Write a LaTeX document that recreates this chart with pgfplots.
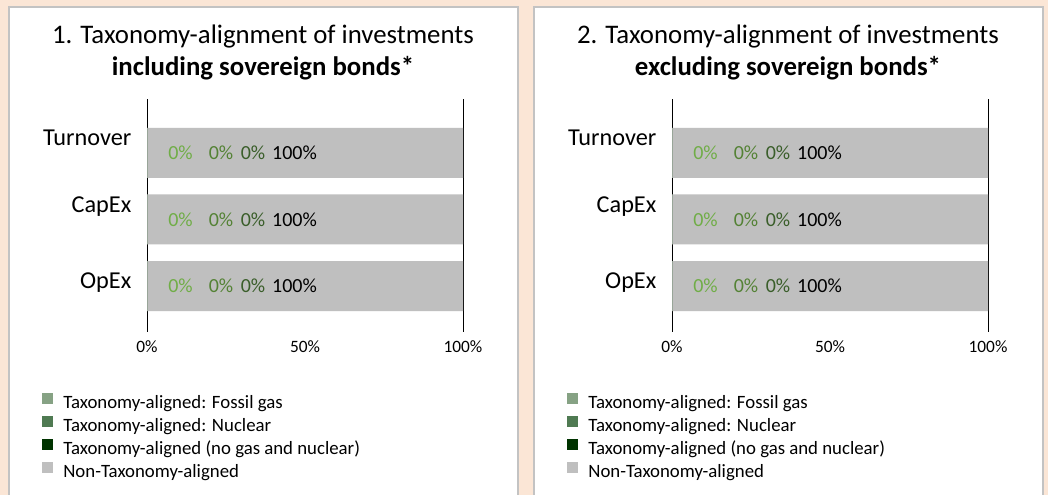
\documentclass[border=0pt]{standalone}
\usepackage{fontspec}
\setmainfont{Carlito}
\usepackage{pgfplots}
\pgfplotsset{compat=1.18}
\definecolor{bgC}{HTML}{FBE6D6}
\definecolor{frameC}{HTML}{C3C3C3}
\definecolor{gasC}{HTML}{86A284}
\definecolor{nucC}{HTML}{4F7A52}
\definecolor{alC}{HTML}{003300}
\definecolor{nonC}{HTML}{BFBFBF}
\definecolor{lOne}{HTML}{70AD47}
\definecolor{lTwo}{HTML}{548235}
\definecolor{lThree}{HTML}{3A5E2A}
\newcommand\PX[2]{({(#1)*0.75pt},{-(#2)*0.75pt})}
\pgfplotsset{
  taxo/.style={
    xbar, bar shift=0pt, scale only axis, width=237pt, height=174.75pt,
    xmin=0, xmax=100, ymin=-0.81, ymax=2.69, y dir=reverse,
    bar width=37.5pt, clip=false,
    axis x line*=bottom, axis y line*=left, axis line style={-, black, line width=0.75pt},
    x axis line style={draw=none},
    xtick={0,50,100}, xticklabels={0\%,50\%,100\%},
    extra x ticks={100}, extra x tick labels={},
    extra x tick style={grid=major, major grid style={black, line width=0.75pt}},
    ytick={-0.225,0.81,1.955}, yticklabels={Turnover,CapEx,OpEx},
    major tick length=0pt,
    xticklabel style={font=\fontsize{13}{15}\selectfont, yshift=-3pt},
    yticklabel style={font=\fontsize{18.2}{21}\selectfont, anchor=east, xshift=-8.2pt},
    point meta=explicit symbolic,
    nodes near coords={\pgfplotspointmeta\%},
    every node near coord/.append style={font=\fontsize{15}{17}\selectfont, anchor=center},
    legend cell align=left, reverse legend,
    legend image code/.code={\fill[##1] (0pt,-0.5pt) rectangle (8.25pt,7.75pt);},
    legend style={at={(-0.332,-0.262)}, anchor=north west, draw=none, fill=none,
      inner sep=0pt, font=\fontsize{14.1}{16}\selectfont,
      nodes={inner sep=0pt, text height=10pt, text depth=3pt},
      row sep=3pt,
      /tikz/every odd column/.append style={column sep=7.5pt}},
  },
  s1/.style={fill=gasC, draw=none, every node near coord/.append style={text=lOne, xshift=25.1pt}},
  s2/.style={fill=nucC, draw=none, every node near coord/.append style={text=lTwo, xshift=55.5pt}},
  s3/.style={fill=alC, draw=none, every node near coord/.append style={text=lThree, xshift=79.5pt}},
  s4/.style={fill=nonC, draw=none, every node near coord/.append style={text=black, xshift=-126.4pt}},
}
\begin{document}
\begin{tikzpicture}
\useasboundingbox \PX{0}{0} rectangle \PX{1048}{495};
\clip \PX{0}{0} rectangle \PX{1048}{495};
\fill[bgC] \PX{0}{0} rectangle \PX{1048}{495};
\draw[frameC, line width=1.5pt, fill=white] \PX{9}{7} rectangle \PX{518}{510};
\draw[frameC, line width=1.5pt, fill=white] \PX{534}{7} rectangle \PX{1043}{510};
\node[align=center, font=\fontsize{20.1}{24}\selectfont] at \PX{263}{52.5} {1. Taxonomy-alignment of investments\\\textbf{including sovereign bonds*}};
\node[align=center, font=\fontsize{20.1}{24}\selectfont] at \PX{788}{52.5} {2. Taxonomy-alignment of investments\\\textbf{excluding sovereign bonds*}};

\begin{axis}[taxo, at={(110.25pt,-249pt)}, anchor=south west]
\addplot[s4] coordinates {(100,0) [100] (100,1) [100] (100,2) [100]};
\addplot[s3] coordinates {(0,0) [0] (0,1) [0] (0,2) [0]};
\addplot[s2] coordinates {(0,0) [0] (0,1) [0] (0,2) [0]};
\addplot[s1] coordinates {(0,0) [0] (0,1) [0] (0,2) [0]};
\legend{Non-Taxonomy-aligned, Taxonomy-aligned (no gas and nuclear), Taxonomy-aligned: Nuclear, Taxonomy-aligned: Fossil gas}
\end{axis}

\begin{axis}[taxo, at={(504pt,-249pt)}, anchor=south west]
\addplot[s4] coordinates {(100,0) [100] (100,1) [100] (100,2) [100]};
\addplot[s3] coordinates {(0,0) [0] (0,1) [0] (0,2) [0]};
\addplot[s2] coordinates {(0,0) [0] (0,1) [0] (0,2) [0]};
\addplot[s1] coordinates {(0,0) [0] (0,1) [0] (0,2) [0]};
\legend{Non-Taxonomy-aligned, Taxonomy-aligned (no gas and nuclear), Taxonomy-aligned: Nuclear, Taxonomy-aligned: Fossil gas}
\end{axis}
\end{tikzpicture}
\end{document}
